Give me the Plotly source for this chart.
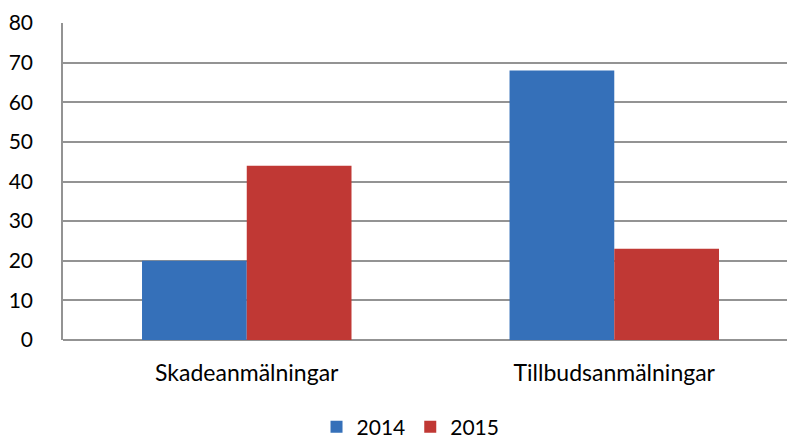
import plotly.graph_objects as go

categories = ["Skadeanmälningar", "Tillbudsanmälningar"]
values_2014 = [20, 68]
values_2015 = [44, 23]
y_ticks = [0, 10, 20, 30, 40, 50, 60, 70, 80]

font_family = "Lato, 'Open Sans', sans-serif"

fig = go.Figure()
fig.add_trace(go.Bar(
    name="2014", x=categories, y=values_2014,
    marker=dict(color="#3570B9", line=dict(width=0)),
))
fig.add_trace(go.Bar(
    name="2015", x=categories, y=values_2015,
    marker=dict(color="#C03834", line=dict(width=0)),
))

fig.update_layout(
    width=787, height=440,
    margin=dict(l=63, r=0, t=23, b=100, autoexpand=False),
    paper_bgcolor="white", plot_bgcolor="white",
    barmode="group", bargap=0.43, bargroupgap=0,
    font=dict(family=font_family, size=21, color="#000000"),
    showlegend=True,
    legend=dict(
        orientation="h", x=0.48, xref="paper", xanchor="center",
        y=-0.275, yanchor="middle",
        font=dict(size=21), itemwidth=30, traceorder="normal",
    ),
)
fig.update_xaxes(
    range=[-0.5, 1.47], showgrid=False, showline=False, zeroline=False,
    automargin=False,
    ticks="", ticklabelstandoff=17, tickfont=dict(size=23),
)
fig.update_yaxes(
    range=[0, 80], tickvals=y_ticks, showgrid=True, gridcolor="#939393",
    gridwidth=1.5, showline=True, linecolor="#939393", linewidth=1.5,
    zeroline=True, zerolinecolor="#939393", zerolinewidth=1.5,
    automargin=False,
    ticks="", ticklabelstandoff=24, tickfont=dict(size=21),
)

fig.write_html("out.html")
